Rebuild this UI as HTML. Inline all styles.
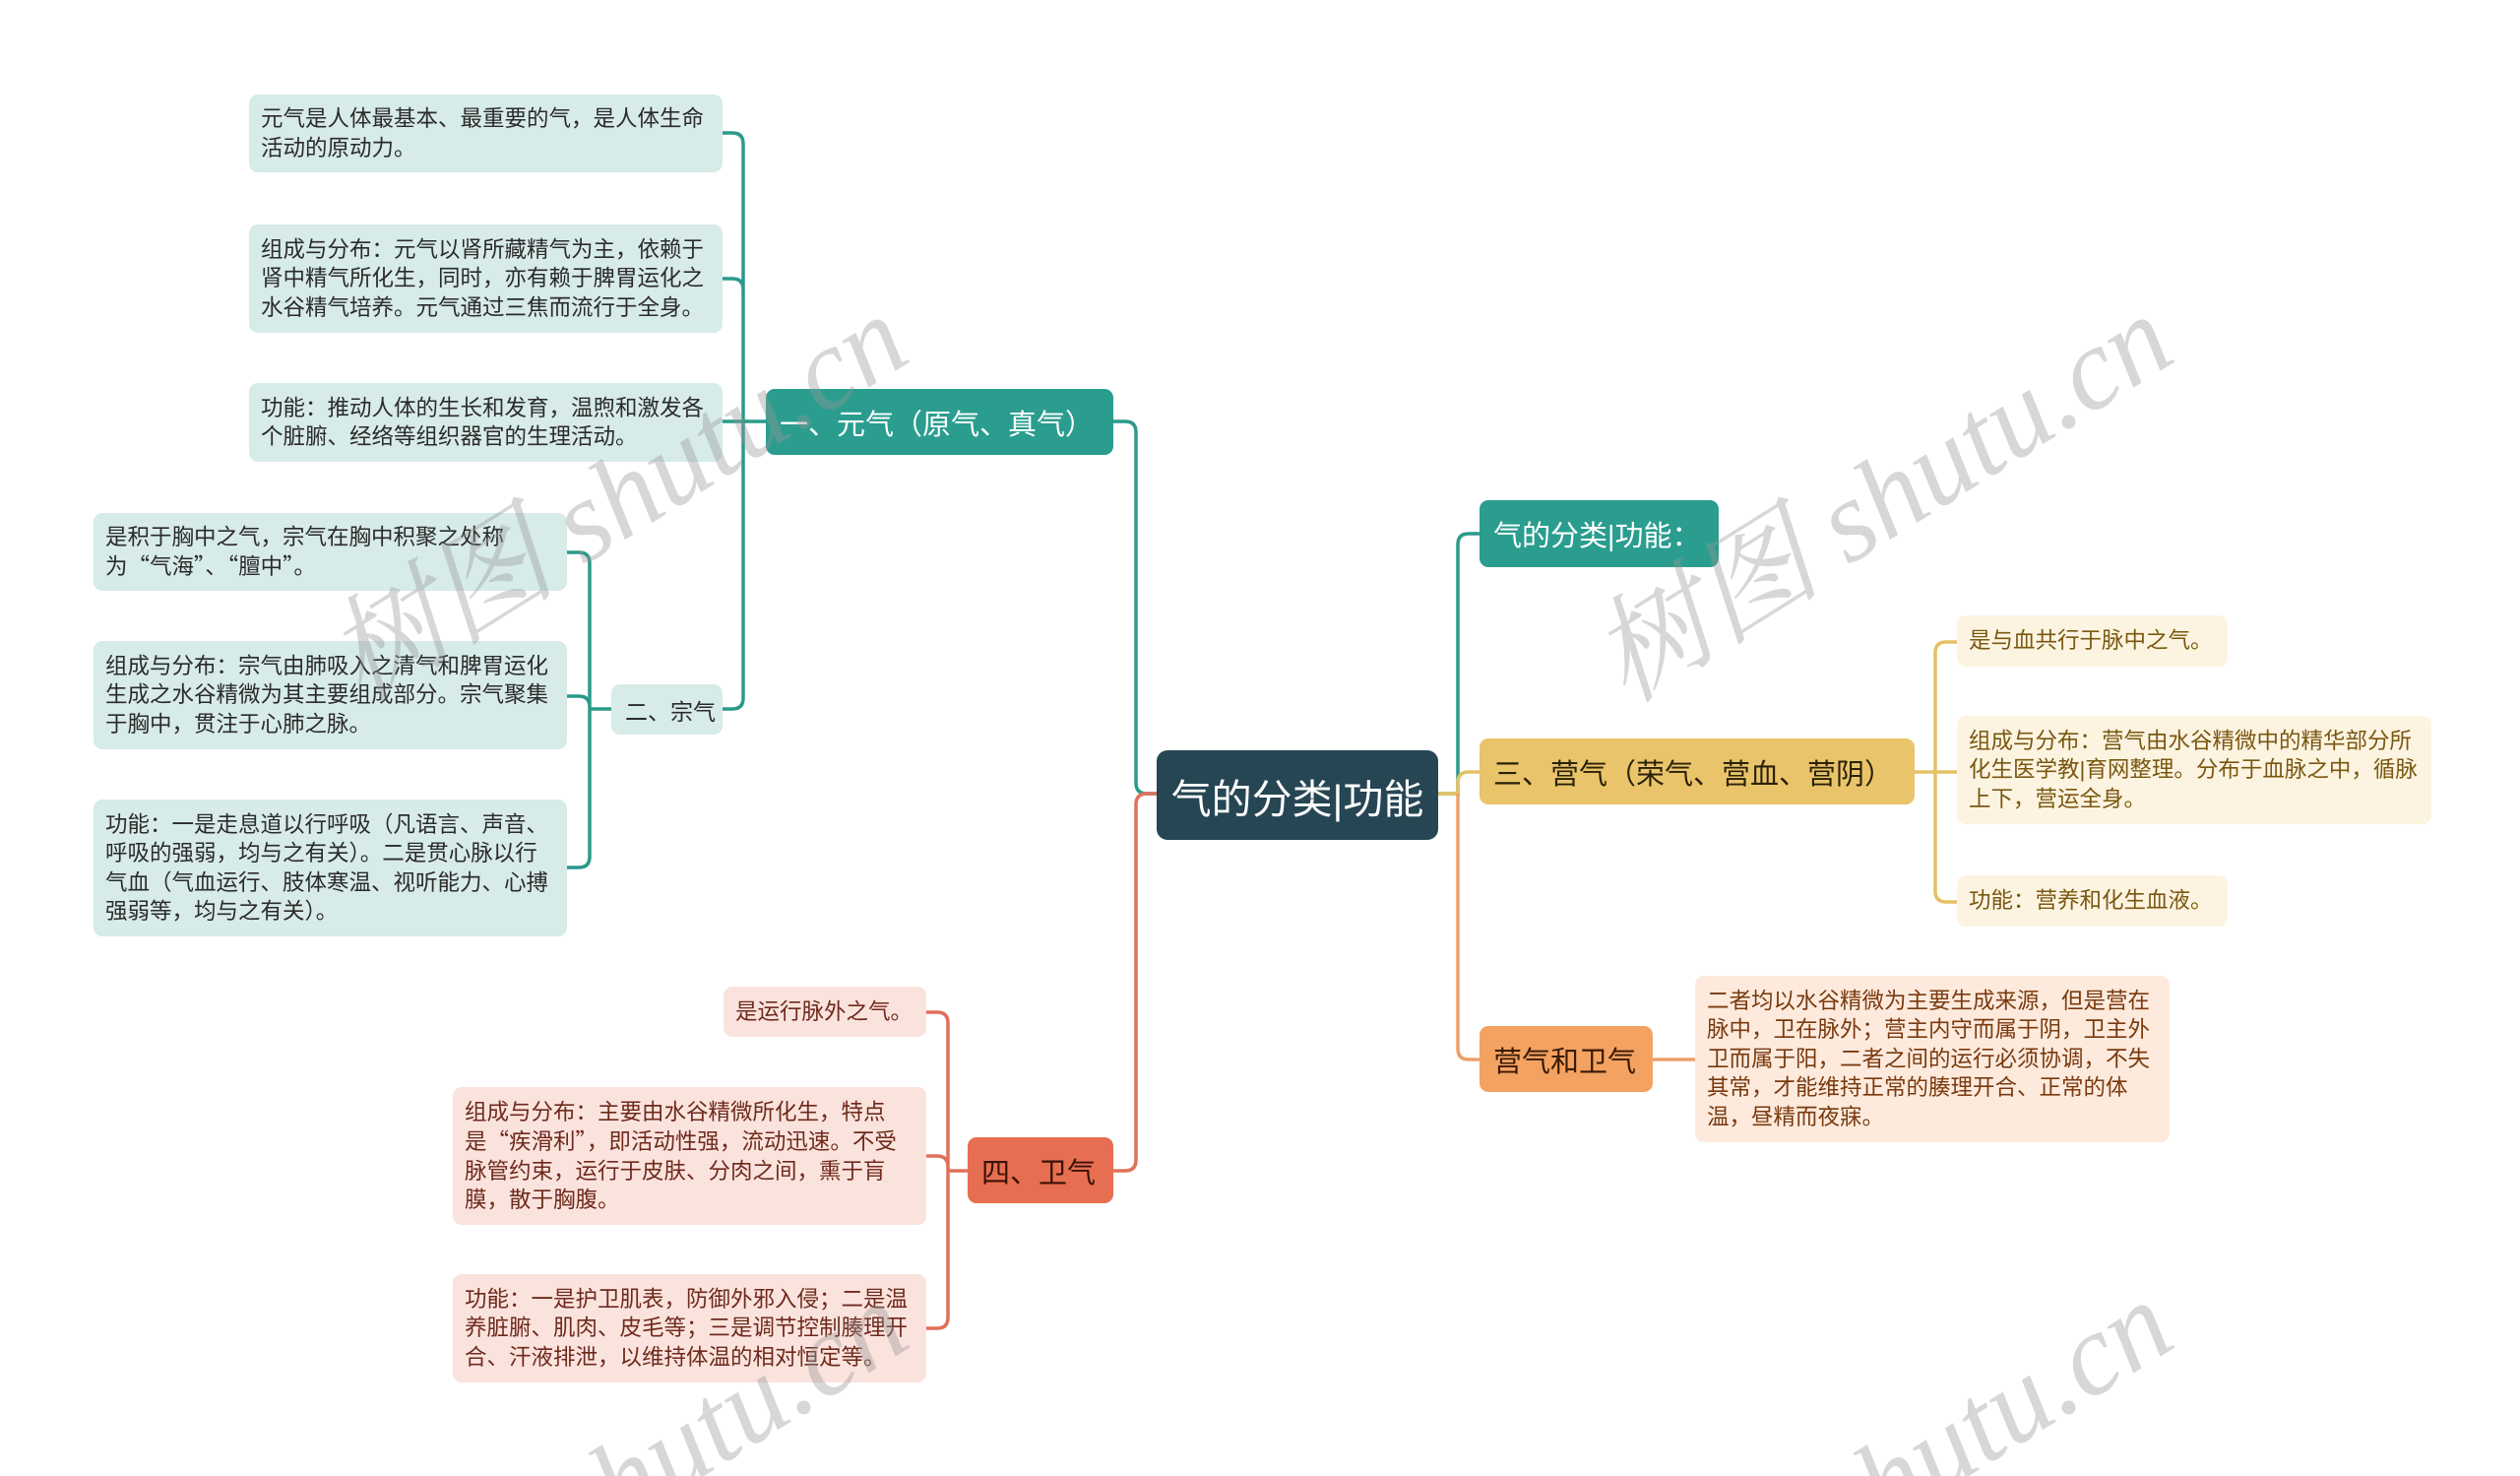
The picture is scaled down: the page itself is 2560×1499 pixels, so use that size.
<!DOCTYPE html>
<html><head><meta charset="utf-8">
<style>
html,body{margin:0;padding:0;background:#fff;}
body{width:2560px;height:1499px;position:relative;overflow:hidden;font-family:"Liberation Sans","Noto Sans CJK SC",sans-serif;}
#w{position:absolute;left:0;top:0;width:2560px;height:1499px;transform:translate(-3px,-2px);}
.b{position:absolute;box-sizing:border-box;border-radius:9px;display:flex;align-items:center;}
.lf{font-size:22.5px;line-height:29.5px;padding:0 12px;}
.q{font-family:"Noto Sans CJK SC",sans-serif;}
.t{background:#d7ebe8;color:#2b2b2b;}
.y{background:#fcf4e1;color:#7a5710;}
.o{background:#fdeadd;color:#7a3a0e;}
.r{background:#fbe3dd;color:#6e2a1c;}
.br{font-size:29px;padding:0 14px;white-space:nowrap;}
svg{position:absolute;left:0;top:0;}
</style></head><body>
<div id="w">
<svg width="2560" height="1499" style="z-index:0">
<g fill="none" stroke-width="3.5">
<path d="M1178 808 H1168 Q1157 808 1157 797 V441 Q1157 430 1146 430 H1134" stroke="#2a9a8a"/>
<path d="M1178 808 H1168 Q1157 808 1157 819 V1180 Q1157 1191 1146 1191 H1134" stroke="#e0705a"/>
<path d="M1464 808 H1484 V555 Q1484 544 1495 544 H1506" stroke="#2a9a8a"/>
<path d="M1464 808 H1484 V797 Q1484 786 1495 786 H1506" stroke="#e5c165"/>
<path d="M1484 808 V1067 Q1484 1078 1495 1078 H1506" stroke="#eda06a"/>
<path d="M781 430 H758 M758 430 V148 Q758 137 747 137 H737 M758 296 Q758 285 747 285 H737 M758 430 H737 M758 430 V711 Q758 722 747 722 H737" stroke="#2a9a8a"/>
<path d="M624 722 H602 M602 722 V574 Q602 563 591 563 H579 M602 720 Q602 709 591 709 H579 M602 722 V872 Q602 883 591 883 H579" stroke="#2a9a8a"/>
<path d="M986 1191 H966 M966 1191 V1041 Q966 1030 955 1030 H944 M966 1187 Q966 1176 955 1176 H944 M966 1191 V1340 Q966 1351 955 1351 H944" stroke="#e0705a"/>
<path d="M1948 786 H1969 M1969 786 V665 Q1969 654 1980 654 H1991 M1969 786 H1991 M1969 786 V907 Q1969 918 1980 918 H1991" stroke="#e5c165"/>
<path d="M1682 1078 H1725" stroke="#eda06a"/>
</g>
</svg>

<div class="b br" style="left:1178px;top:764px;width:286px;height:91px;background:#264653;color:#fff;font-size:41px;border-radius:11px;justify-content:center;">气的分类|功能</div>

<div class="b br" style="left:781px;top:397px;width:353px;height:67px;background:#2a9d8f;color:#fff;">一、元气（原气、真气）</div>
<div class="b br" style="left:624px;top:697px;width:113px;height:51px;background:#d7ebe8;color:#2b2b2b;font-size:23px;">二、宗气</div>
<div class="b br" style="left:986px;top:1157px;width:148px;height:67px;background:#e76f51;color:#3a1208;">四、卫气</div>
<div class="b br" style="left:1506px;top:510px;width:243px;height:68px;background:#2a9d8f;color:#fff;">气的分类|功能：</div>
<div class="b br" style="left:1506px;top:752px;width:442px;height:67px;background:#e9c46a;color:#2a2108;">三、营气（荣气、营血、营阴）</div>
<div class="b br" style="left:1506px;top:1044px;width:176px;height:67px;background:#f4a261;color:#3a1a05;">营气和卫气</div>

<div class="b lf t" style="left:256px;top:98px;width:481px;height:79px;">元气是人体最基本、最重要的气，是人体生命活动的原动力。</div>
<div class="b lf t" style="left:256px;top:230px;width:481px;height:110px;">组成与分布：元气以肾所藏精气为主，依赖于肾中精气所化生，同时，亦有赖于脾胃运化之水谷精气培养。元气通过三焦而流行于全身。</div>
<div class="b lf t" style="left:256px;top:391px;width:481px;height:80px;">功能：推动人体的生长和发育，温煦和激发各个脏腑、经络等组织器官的生理活动。</div>

<div class="b lf t" style="left:98px;top:523px;width:481px;height:79px;"><span>是积于胸中之气，宗气在胸中积聚之处称为<span class="q">“</span>气海<span class="q">”</span>、<span class="q">“</span>膻中<span class="q">”</span>。</span></div>
<div class="b lf t" style="left:98px;top:653px;width:481px;height:110px;">组成与分布：宗气由肺吸入之清气和脾胃运化生成之水谷精微为其主要组成部分。宗气聚集于胸中，贯注于心肺之脉。</div>
<div class="b lf t" style="left:98px;top:814px;width:481px;height:139px;">功能：一是走息道以行呼吸（凡语言、声音、呼吸的强弱，均与之有关）。二是贯心脉以行气血（气血运行、肢体寒温、视听能力、心搏强弱等，均与之有关）。</div>

<div class="b lf r" style="left:738px;top:1004px;width:206px;height:51px;">是运行脉外之气。</div>
<div class="b lf r" style="left:463px;top:1106px;width:481px;height:140px;"><span>组成与分布：主要由水谷精微所化生，特点是<span class="q">“</span>疾滑利<span class="q">”</span>，即活动性强，流动迅速。不受脉管约束，运行于皮肤、分肉之间，熏于肓膜，散于胸腹。</span></div>
<div class="b lf r" style="left:463px;top:1296px;width:481px;height:110px;">功能：一是护卫肌表，防御外邪入侵；二是温养脏腑、肌肉、皮毛等；三是调节控制腠理开合、汗液排泄，以维持体温的相对恒定等。</div>

<div class="b lf y" style="left:1991px;top:627px;width:275px;height:52px;">是与血共行于脉中之气。</div>
<div class="b lf y" style="left:1991px;top:729px;width:482px;height:110px;">组成与分布：营气由水谷精微中的精华部分所化生医学教|育网整理。分布于血脉之中，循脉上下，营运全身。</div>
<div class="b lf y" style="left:1991px;top:891px;width:275px;height:52px;">功能：营养和化生血液。</div>

<div class="b lf o" style="left:1725px;top:993px;width:482px;height:169px;">二者均以水谷精微为主要生成来源，但是营在脉中，卫在脉外；营主内守而属于阴，卫主外卫而属于阳，二者之间的运行必须协调，不失其常，才能维持正常的腠理开合、正常的体温，昼精而夜寐。</div>
</div>
<svg width="2560" height="1499" viewBox="0 0 2560 1499" style="z-index:5;pointer-events:none;overflow:hidden">
<g font-family="'Liberation Serif','Noto Serif CJK SC',serif" font-style="italic" font-size="118" fill="rgba(150,150,150,0.38)" text-anchor="middle">
<text transform="translate(648,540) rotate(-32)">树图 shutu.cn</text>
<text transform="translate(1933,540) rotate(-32)">树图 shutu.cn</text>
<text transform="translate(648,1541) rotate(-32)">树图 shutu.cn</text>
<text transform="translate(1933,1541) rotate(-32)">树图 shutu.cn</text>
</g>
</svg>
</body></html>
